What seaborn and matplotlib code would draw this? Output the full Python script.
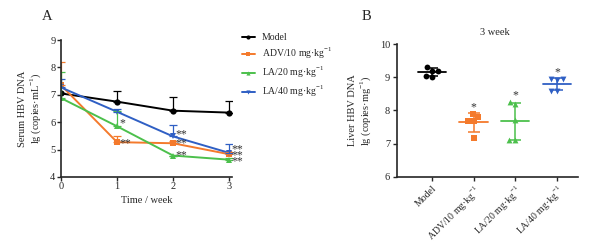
import numpy as np
import pandas as pd
import matplotlib
matplotlib.use("Agg")
import matplotlib.pyplot as plt
import seaborn as sns

sns.set_style("ticks")
plt.rcParams['font.family'] = ['Liberation Serif', 'DejaVu Serif']
plt.rcParams['mathtext.fontset'] = 'custom'
plt.rcParams['mathtext.rm'] = 'Liberation Serif'

# ---- data ----
weeks = [0, 1, 2, 3]
groups = ["Model", "ADV/10 mg·kg$^{-1}$", "LA/20 mg·kg$^{-1}$", "LA/40 mg·kg$^{-1}$"]
model_mean = [7.05, 6.75, 6.42, 6.35]
model_err = [0.0, 0.40, 0.50, 0.42]
adv_mean = [7.35, 5.27, 5.23, 4.83]
adv_err = [0.85, 0.24, 0.10, 0.08]
la20_mean = [6.88, 5.85, 4.78, 4.63]
la20_err = [0.95, 0.55, 0.0, 0.05]
la40_mean = [7.27, 6.38, 5.48, 4.88]
la40_err = [0.30, 0.10, 0.40, 0.32]

liver_model = [9.30, 9.20, 9.20, 9.01, 9.05]
liver_adv = [7.89, 7.81, 7.69, 7.69, 7.16]
liver_la20 = [8.27, 8.19, 7.71, 7.11, 7.11]
liver_la40 = [8.95, 8.92, 8.95, 8.60, 8.60]

colors = ["#000000", "#F47A2C", "#4CC04C", "#2F5FC4"]
markers = ["o", "s", "^", "v"]

fig = plt.figure(figsize=(5.89, 2.43), dpi=100)
axA = fig.add_axes([0.1036, 0.272, 0.290, 0.563])
axB = fig.add_axes([0.674, 0.273, 0.307, 0.545])

# ---- Panel A ----
means = [model_mean, adv_mean, la20_mean, la40_mean]
errs = [model_err, adv_err, la20_err, la40_err]
rows = []
for g, m in zip(groups, means):
    for w, v in zip(weeks, m):
        rows.append({"week": w, "value": v, "group": g})
dfA = pd.DataFrame(rows)
sns.lineplot(data=dfA, x="week", y="value", hue="group", style="group",
             palette=colors, markers=markers, dashes=False, ax=axA,
             markersize=4.5, linewidth=1.4, markeredgewidth=0, legend=True)
for m, e, c in zip(means, errs, colors):
    axA.errorbar(weeks, m, yerr=[np.zeros(4), e], fmt="none", ecolor=c,
                 elinewidth=0.9, capsize=3, capthick=0.9)

stars = [(1, 5.95, "*"), (1, 5.22, "**"), (2, 5.55, "**"), (2, 5.22, "**"),
         (2, 4.8, "**"), (3, 5.02, "**"), (3, 4.8, "**"), (3, 4.58, "**")]
for x, y, s in stars:
    axA.text(x + 0.04, y, s, fontsize=8.5, va="center", ha="left", color="#333333")

axA.set_xlim(0, 3.05)
axA.set_ylim(4, 9)
axA.set_xticks(weeks)
axA.set_yticks([4, 5, 6, 7, 8, 9])
axA.tick_params(labelsize=7.5, length=3, width=1, pad=1)
axA.set_xlabel("Time / week", fontsize=7.5, labelpad=3)
axA.set_ylabel("Serum HBV DNA\nlg (copies·mL$^{-1}$)", fontsize=7.5, labelpad=5,
               linespacing=1.15)
for sp in ["left", "bottom"]:
    axA.spines[sp].set_linewidth(1.2)
sns.despine(ax=axA)
leg = axA.legend(loc="upper left", bbox_to_anchor=(1.035, 1.08), frameon=False,
                 fontsize=7, handlelength=1.35, handletextpad=0.7,
                 labelspacing=0.4, borderaxespad=0)
for h in leg.legend_handles:
    h.set_markersize(3)

# ---- Panel B ----
liver = [liver_model, liver_adv, liver_la20, liver_la40]
rowsB = []
for g, vals in zip(groups, liver):
    for v in vals:
        rowsB.append({"group": g, "value": v})
dfB = pd.DataFrame(rowsB)
for i, (g, c, mk) in enumerate(zip(groups, colors, markers)):
    sub = dfB[dfB.group == g]
    sns.swarmplot(data=sub, x="group", y="value", order=groups, color=c,
                  marker=mk, size=4.2, ax=axB, linewidth=0)
    mean = np.mean(liver[i]); sd = np.std(liver[i], ddof=1)
    axB.errorbar([i], [mean], yerr=[[sd], [sd]], fmt="none", ecolor=c,
                 elinewidth=1.1, capsize=4.5, capthick=1.1)
    axB.plot([i - 0.34, i + 0.34], [mean, mean], color=c, lw=1.3)
    if i > 0:
        axB.text(i, max(liver[i]) + 0.2, "*", ha="center", va="center",
                 fontsize=8.5, color="#333333")

axB.set_xlim(-0.84, 3.5)
axB.set_ylim(6, 10)
axB.set_yticks([6, 7, 8, 9, 10])
axB.set_xticks(range(4))
axB.set_xticklabels(groups, rotation=45, ha="right", rotation_mode="anchor")
axB.tick_params(axis="y", labelsize=7.5, length=3, width=1, pad=2)
axB.tick_params(axis="x", labelsize=7, length=3, width=1, pad=2)
axB.set_xlabel("")
axB.set_ylabel("Liver HBV DNA\nlg (copies·mg$^{-1}$)", fontsize=7.5, labelpad=5,
               linespacing=1.15)
axB.set_title("3 week", fontsize=7.5, pad=7, x=0.54)
for sp in ["left", "bottom"]:
    axB.spines[sp].set_linewidth(1.2)
sns.despine(ax=axB)

fig.text(47 / 589, 1 - 17 / 243, "A", fontsize=10.5, ha="center", va="center")
fig.text(366 / 589, 1 - 17 / 243, "B", fontsize=10.5, ha="center", va="center")

fig.savefig("out.png", dpi=100, facecolor="white")
